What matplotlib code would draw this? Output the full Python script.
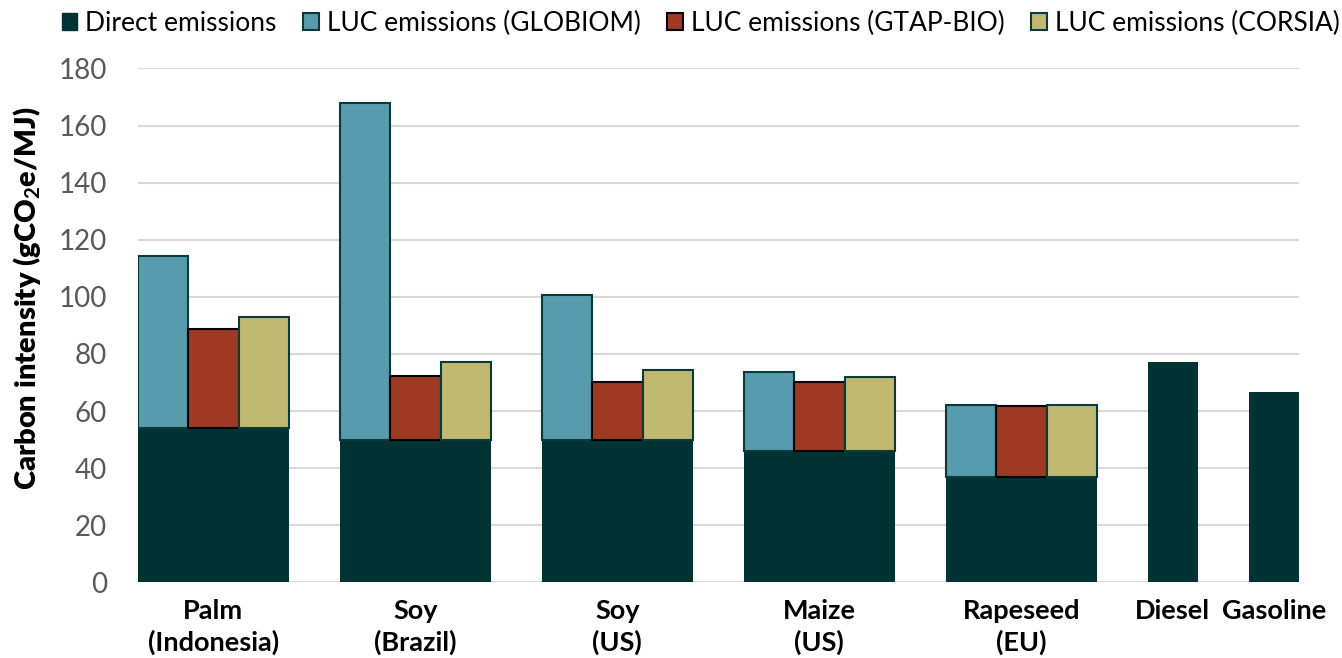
import numpy as np
import matplotlib
matplotlib.use("Agg")
import matplotlib.pyplot as plt
from matplotlib.patches import Patch

plt.rcParams['font.family'] = ['Lato', 'DejaVu Sans']
plt.rcParams['mathtext.fontset'] = 'custom'
plt.rcParams['mathtext.rm'] = 'Lato'
plt.rcParams['mathtext.bf'] = 'Lato:bold'

# feedstocks and fossil references
crops = ['Palm\n(Indonesia)', 'Soy\n(Brazil)', 'Soy\n(US)', 'Maize\n(US)', 'Rapeseed\n(EU)']
fossils = ['Diesel', 'Gasoline']

# gCO2e/MJ
direct = [54, 50, 50, 46, 37]
luc_globiom = [60.2, 118, 50.5, 27.8, 25.2]
luc_gtap = [34.6, 22.4, 20, 24, 24.8]
luc_corsia = [39, 27, 24.5, 26, 25.1]
fossil_ci = [77, 66.8]

c_direct = '#013335'
c_globiom = '#579BAC'
c_gtap = '#9E3A24'
c_corsia = '#C1B972'
c_edge = '#0B3A3B'

fig = plt.figure(figsize=(13.42, 6.58), dpi=100)
ax = fig.add_axes([0.1025, 0.115, 0.8655, 0.7810])

x = np.arange(len(crops))
xf = np.array([4.75, 5.25])
w = 0.25

ax.bar(x, direct, width=3 * w, color=c_direct, linewidth=0)
ax.bar(xf, fossil_ci, width=w, color=c_direct, linewidth=0)
ax.bar(x - w, luc_globiom, width=w, bottom=direct, color=c_globiom,
       edgecolor=c_edge, linewidth=1.5)
ax.bar(x, luc_gtap, width=w, bottom=direct, color=c_gtap,
       edgecolor='black', linewidth=1.5)
ax.bar(x + w, luc_corsia, width=w, bottom=direct, color=c_corsia,
       edgecolor=c_edge, linewidth=1.5)

ax.set_xlim(-0.375, 5.375)
ax.set_ylim(0, 180)
ax.set_yticks(np.arange(0, 181, 20))
ax.yaxis.grid(True, color='#D9D9D9', linewidth=1.5)
ax.set_axisbelow(True)
for s in ax.spines.values():
    s.set_visible(False)

ax.set_xticks(list(x) + list(xf))
ax.set_xticklabels(crops + fossils, fontsize=19.5, fontweight='bold',
                   color='black', linespacing=1.3)
ax.tick_params(axis='x', length=0, pad=12)
ax.tick_params(axis='y', length=0, pad=22, labelsize=20, labelcolor='#595959')

ax.set_ylabel(r'Carbon intensity (gCO$_{\mathbf{2}}$e/MJ)', fontsize=21,
              fontweight='heavy')
ax.yaxis.set_label_coords(-0.081, 0.553)

handles = [
    Patch(facecolor=c_direct, edgecolor=c_direct, linewidth=1),
    Patch(facecolor=c_globiom, edgecolor=c_edge, linewidth=1.5),
    Patch(facecolor=c_gtap, edgecolor='black', linewidth=1.5),
    Patch(facecolor=c_corsia, edgecolor=c_edge, linewidth=1.5),
]
labels = ['Direct emissions', 'LUC emissions (GLOBIOM)',
          'LUC emissions (GTAP-BIO)', 'LUC emissions (CORSIA)']
fig.legend(handles, labels, loc='center', bbox_to_anchor=(0.522, 0.965), ncol=4,
           frameon=False, fontsize=19, handlelength=0.6, handleheight=0.6,
           handletextpad=0.3, columnspacing=1.0)

fig.savefig('out.png', dpi=100)
